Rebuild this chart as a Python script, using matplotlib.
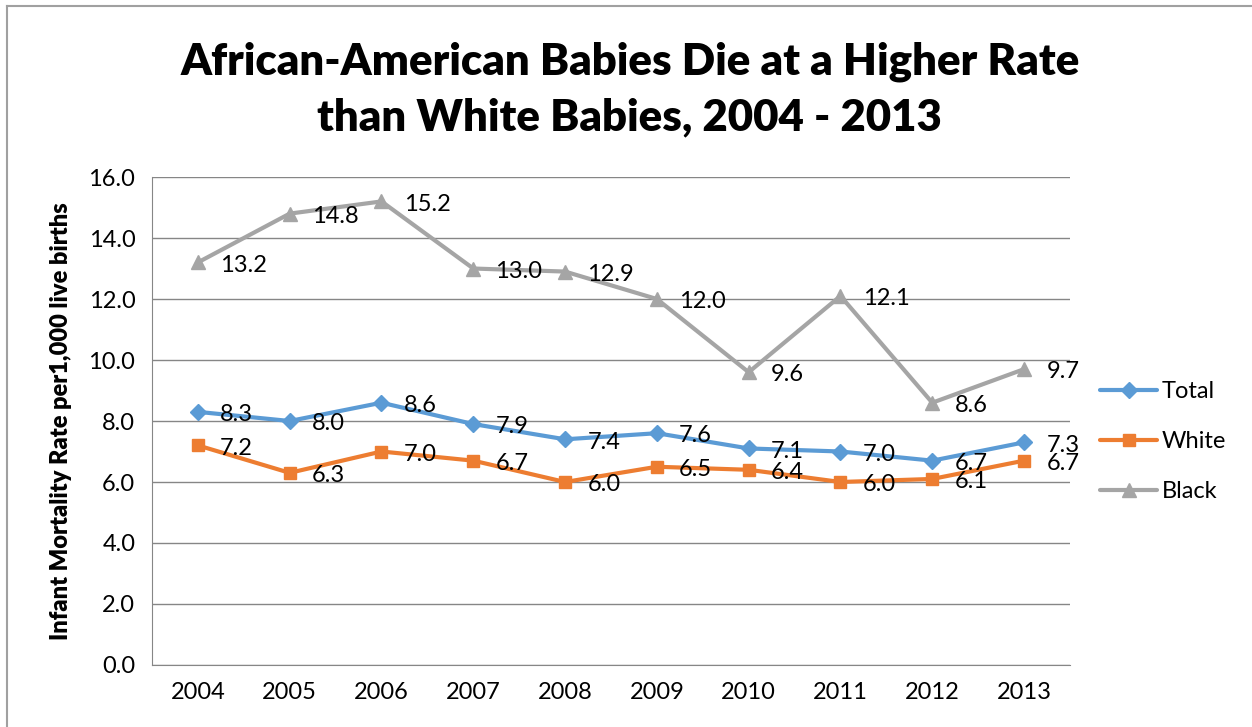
import matplotlib.pyplot as plt
from matplotlib.lines import Line2D

plt.rcParams['font.family'] = ['Lato', 'DejaVu Sans']

years = ['2004', '2005', '2006', '2007', '2008', '2009', '2010', '2011', '2012', '2013']
total = [8.3, 8.0, 8.6, 7.9, 7.4, 7.6, 7.1, 7.0, 6.7, 7.3]
white = [7.2, 6.3, 7.0, 6.7, 6.0, 6.5, 6.4, 6.0, 6.1, 6.7]
black = [13.2, 14.8, 15.2, 13.0, 12.9, 12.0, 9.6, 12.1, 8.6, 9.7]
yticks = [0, 2, 4, 6, 8, 10, 12, 14, 16]

series = [
    ('Total', total, '#5B9BD5', 'D', 8),
    ('White', white, '#ED7D31', 's', 9),
    ('Black', black, '#A5A5A5', '^', 10),
]

fig = plt.figure(figsize=(12.52, 7.27), dpi=100)
ax = fig.add_axes([0.1214, 0.0853, 0.7332, 0.6712])

x = list(range(len(years)))
for name, vals, color, marker, ms in series:
    ax.plot(x, vals, color=color, lw=3, marker=marker, ms=ms, label=name,
            solid_capstyle='round', zorder=3)
    for xi, v in zip(x, vals):
        ax.annotate(f'{v:.1f}', (xi, v), xytext=(16, -2), textcoords='offset points',
                    ha='left', va='center', fontsize=17, color='black', zorder=4)

ax.set_xlim(-0.5, len(years) - 0.5)
ax.set_ylim(0, 16)
ax.set_yticks(yticks)
ax.set_yticklabels([f'{t:.1f}' for t in yticks])
ax.set_xticks(x)
ax.set_xticklabels(years)
ax.tick_params(axis='both', length=0, labelsize=17, pad=12)
ax.grid(axis='y', color='#868686', lw=1)
ax.set_axisbelow(True)
for side in ['top', 'right']:
    ax.spines[side].set_visible(False)
for side in ['left', 'bottom']:
    ax.spines[side].set_color('#868686')
ax.set_ylabel('Infant Mortality Rate per1,000 live births', fontsize=17,
              fontweight='heavy', labelpad=12)

fig.text(0.503, 0.915, 'African-American Babies Die at a Higher Rate',
         ha='center', va='center', fontsize=31.5, fontweight='heavy')
fig.text(0.503, 0.838, 'than White Babies, 2004 - 2013',
         ha='center', va='center', fontsize=31.5, fontweight='heavy')

ax.legend(loc='center left', bbox_to_anchor=(1.01, 0.458), frameon=False,
          fontsize=17, handlelength=2.4, labelspacing=1.22, handletextpad=0.2)

# outer chart border (top and left edges visible)
fig.add_artist(Line2D([7 / 1252, 7 / 1252], [0, 1 - 6 / 727], color='#A0A0A0', lw=1.5,
                      transform=fig.transFigure))
fig.add_artist(Line2D([7 / 1252, 1], [1 - 6 / 727, 1 - 6 / 727], color='#A0A0A0', lw=1.5,
                      transform=fig.transFigure))

fig.savefig('out.png', dpi=100)
